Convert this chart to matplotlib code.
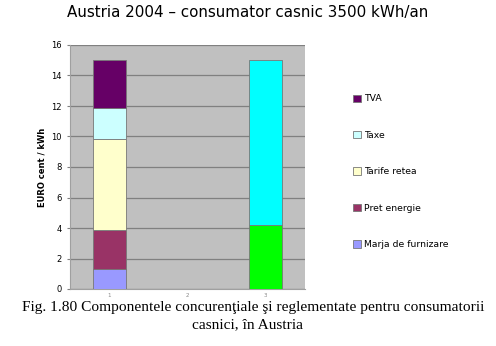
import numpy as np
import matplotlib
matplotlib.use("Agg")
import matplotlib.pyplot as plt

categories = ["1", "2", "3"]
components = ["Marja de furnizare", "Pret energie", "Tarife retea", "Taxe", "TVA"]
colors = ["#9999ff", "#993366", "#ffffcc", "#ccffff", "#660066"]
# stacked values for column 1 (EURO cent / kWh)
col1_values = [1.3, 2.6, 5.95, 2.0, 3.15]
# column 3: competitive part and regulated part
col3_values = [4.2, 10.8]
col3_colors = ["#00ff00", "#00ffff"]

fig = plt.figure(figsize=(4.96, 3.46), dpi=100)
ax = fig.add_axes([70 / 496, 1 - 289 / 346, 235 / 496, 244 / 346])
ax.set_facecolor("#c0c0c0")

x = np.arange(1, len(categories) + 1)
width = 0.42

bottom = 0
bars = []
for val, col, name in zip(col1_values, colors, components):
    b = ax.bar(x[0], val, width, bottom=bottom, color=col, edgecolor="#777777",
               linewidth=0.6, label=name, zorder=3)
    bars.append(b)
    bottom += val

bottom = 0
for val, col in zip(col3_values, col3_colors):
    ax.bar(x[2], val, width, bottom=bottom, color=col, edgecolor="#777777",
           linewidth=0.6, zorder=3)
    bottom += val

ax.set_xlim(0.5, 3.5)
ax.set_ylim(0, 16)
ax.set_yticks(range(0, 17, 2))
ax.set_xticks(x)
ax.set_xticklabels(categories, fontsize=4, color="#888888")
ax.tick_params(axis="y", labelsize=6, length=2, color="#808080", pad=4)
ax.tick_params(axis="x", length=0, pad=3)
ax.grid(axis="y", color="#808080", linewidth=0.9, zorder=1)
for s in ["top", "right"]:
    ax.spines[s].set_visible(False)
ax.spines["left"].set_color("#a0a0a0")
ax.spines["bottom"].set_color("#a0a0a0")
ax.set_ylabel("EURO cent / kWh", fontsize=6, fontweight="bold", labelpad=3)

# legend in reverse order, spaced down the right side
handles = bars[::-1]
labels = components[::-1]
leg = fig.legend(handles, labels, loc="upper left",
                 bbox_to_anchor=(345 / 496, 1 - 86 / 346), frameon=False,
                 fontsize=6.7, labelspacing=2.95, handlelength=0.8, handleheight=0.8,
                 handletextpad=0.3)

fig.text(0.5, 1 - 12 / 346, "Austria 2004 \u2013 consumator casnic 3500 kWh/an",
         ha="center", va="center", fontsize=10.9)
fig.text(253 / 496, 1 - 308 / 346,
         "Fig. 1.80 Componentele concuren\u0163iale \u015fi reglementate pentru consumatorii",
         ha="center", va="center", fontsize=11.1, family="Liberation Serif")
fig.text(0.5, 1 - 325 / 346, "casnici, \u00een Austria",
         ha="center", va="center", fontsize=11.1, family="Liberation Serif")

fig.savefig("out.png", dpi=100)
